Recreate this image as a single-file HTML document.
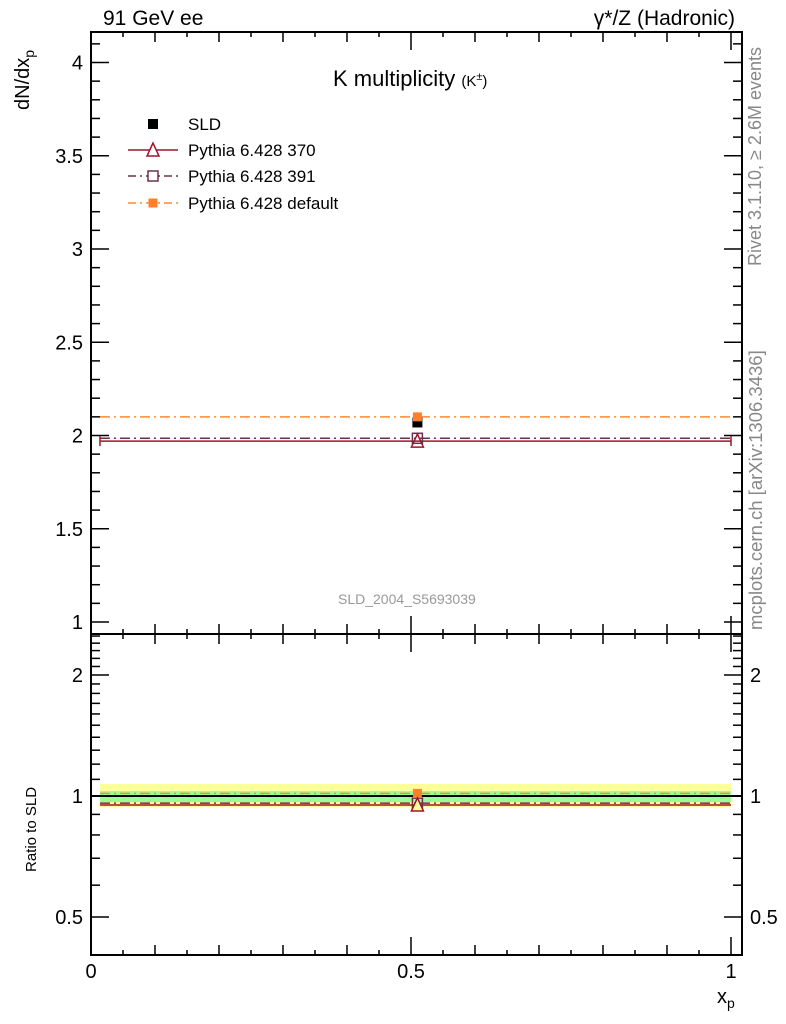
<!DOCTYPE html>
<html><head><meta charset="utf-8"><style>
body{margin:0;background:#fff;}
svg{display:block;font-family:"Liberation Sans",sans-serif;}
</style></head><body>
<svg id="c" width="786" height="1024" viewBox="0 0 786 1024">
<g id="g"></g>
</svg>
<script>
const seriesNames=["SLD","Pythia 6.428 370","Pythia 6.428 391","Pythia 6.428 default"];
const xLow=[0.014];
const xHigh=[1.0];
const xCenter=[0.51];
const sldVals=[2.07];
const p370Vals=[1.97];
const p391Vals=[1.985];
const pDefVals=[2.10];
const r370=[0.95];
const r391=[0.96];
const rDef=[1.015];
const bandInner=[0.966,1.029];
const bandOuter=[0.939,1.071];
const mainTicks=[1,1.5,2,2.5,3,3.5,4];
const ratioTicks=[0.5,1,2];
const xTicks=[0,0.5,1];

const NS="http://www.w3.org/2000/svg";
const g=document.getElementById('g');
const L=91,R=742,T=32,MB=634,RB=955;
const X=v=>L+v*640;
const Y=v=>622-(v-1)*186.5;
const YR=v=>796-Math.log2(v)*121;
function el(t,a,txt){const e=document.createElementNS(NS,t);for(const k in a)e.setAttribute(k,a[k]);if(txt!==undefined)e.textContent=txt;g.appendChild(e);return e;}
function line(x1,y1,x2,y2,s,w,d){return el('line',{x1,y1,x2,y2,stroke:s,'stroke-width':w||1,'stroke-dasharray':d||'none'});}

let e=el('rect',{x:X(xLow[0]),y:YR(bandOuter[1]),width:X(xHigh[0])-X(xLow[0]),height:YR(bandOuter[0])-YR(bandOuter[1]),fill:'#ffff99'});

e=el('rect',{x:X(xLow[0]),y:YR(bandInner[1]),width:X(xHigh[0])-X(xLow[0]),height:YR(bandInner[0])-YR(bandInner[1]),fill:'#99ff99'});


e=el('rect',{x:L,y:T,width:R-L,height:MB-T,fill:'none',stroke:'#000','stroke-width':2});

e=el('rect',{x:L,y:MB,width:R-L,height:RB-MB,fill:'none',stroke:'#000','stroke-width':2});


for(let v=1;v<=4.15;v+=0.1){const vv=Math.round(v*10)/10;const maj=Math.abs(vv*2-Math.round(vv*2))<1e-6;const len=maj?18:9;
 line(L,Y(vv),L+len,Y(vv),'#000',1.5);line(R,Y(vv),R-len,Y(vv),'#000',1.5);}
mainTicks.forEach(v=>{e=el('text',{x:L-8,y:Y(v)+7,'font-size':20,'text-anchor':'end'},String(v));
 });
for(let v=0.4;v<=2.55;v+=0.1){const vv=Math.round(v*10)/10;if(YR(vv)<MB||YR(vv)>RB)continue;const maj=ratioTicks.includes(vv);const len=maj?18:9;
 line(L,YR(vv),L+len,YR(vv),'#000',1.5);line(R,YR(vv),R-len,YR(vv),'#000',1.5);}
ratioTicks.forEach(v=>{e=el('text',{x:L-8,y:YR(v)+7,'font-size':20,'text-anchor':'end'},String(v));
 
 e=el('text',{x:R+8,y:YR(v)+7,'font-size':20},String(v));
 });
for(let i=0;i<=20;i++){const v=i*0.05;const len=(i%10==0)?18:(i%2==0?10:5);
 line(X(v),MB,X(v),MB-len,'#000',1.5);line(X(v),MB,X(v),MB+len,'#000',1.5);line(X(v),RB,X(v),RB-len,'#000',1.5);line(X(v),T,X(v),T+len,'#000',1.5);}
xTicks.forEach(v=>{e=el('text',{x:X(v),y:978,'font-size':20,'text-anchor':'middle'},String(v));
 });

function hline(x1,x2,y,c,d,w,name){const l=line(x1,y,x2,y,c,w||1.5,d);}
xCenter.forEach((xc,i)=>{
 hline(X(xLow[i]),X(xHigh[i]),Y(pDefVals[i]),'#ff8a33','10,4,2,4',1.5,'default-line');
 hline(X(xLow[i]),X(xHigh[i]),Y(p391Vals[i]),'#6b3050','10,4,2,4',1.5,'p391-line');
 hline(X(xLow[i]),X(xHigh[i]),Y(p370Vals[i]),'#a0142c',null,1.5,'p370-line');
 line(X(xLow[i]),Y(p370Vals[i])-5,X(xLow[i]),Y(p370Vals[i])+5,'#a0142c',1.5);
 line(X(xHigh[i]),Y(p370Vals[i])-5,X(xHigh[i]),Y(p370Vals[i])+5,'#a0142c',1.5);
 let m=el('rect',{x:X(xc)-5,y:Y(sldVals[i])-5,width:10,height:10,fill:'#000'});
 
 m=el('rect',{x:X(xc)-5,y:Y(p391Vals[i])-5,width:10,height:10,fill:'none',stroke:'#6b3050','stroke-width':1.5});
 
 m=el('rect',{x:X(xc)-4.5,y:Y(pDefVals[i])-4.5,width:9,height:9,fill:'#ff7f2a'});
 
 const ty=Y(p370Vals[i]);
 m=el('polygon',{points:`${X(xc)},${ty-7} ${X(xc)-6},${ty+6} ${X(xc)+6},${ty+6}`,fill:'none',stroke:'#a0142c','stroke-width':1.5});
 
 line(L,YR(1),R,YR(1),'#000',2);
 hline(X(xLow[i]),X(xHigh[i]),YR(rDef[i]),'#ff8a33','10,4,2,4',1.5,'ratio-default-line');
 hline(X(xLow[i]),X(xHigh[i]),YR(r391[i]),'#6b3050','10,4,2,4',1.5,'ratio-p391-line');
 hline(X(xLow[i]),X(xHigh[i]),YR(r370[i]),'#a0142c',null,1.5,'ratio-p370-line');
 m=el('rect',{x:X(xc)-5,y:YR(r391[i])-5,width:10,height:10,fill:'none',stroke:'#6b3050','stroke-width':1.5});
 
 m=el('rect',{x:X(xc)-4.5,y:YR(rDef[i])-4.5,width:9,height:9,fill:'#ff7f2a'});
 
 const ry=YR(r370[i]);
 m=el('polygon',{points:`${X(xc)},${ry-7} ${X(xc)-6},${ry+6} ${X(xc)+6},${ry+6}`,fill:'#ffff99',stroke:'#a0142c','stroke-width':1.5});
 
});

const ly=[124,150,176,203];
e=el('rect',{x:148,y:ly[0]-5,width:10,height:10,fill:'#000'});
line(128,ly[1],178,ly[1],'#a0142c',1.5);
e=el('polygon',{points:`153,${ly[1]-7} 147,${ly[1]+6} 159,${ly[1]+6}`,fill:'#fff',stroke:'#a0142c','stroke-width':1.5});
line(128,ly[2],178,ly[2],'#6b3050',1.5,'8,4,2,4');
e=el('rect',{x:148,y:ly[2]-5,width:10,height:10,fill:'#fff',stroke:'#6b3050','stroke-width':1.5});
line(128,ly[3],178,ly[3],'#ff8a33',1.5,'8,4,2,4');
e=el('rect',{x:148.5,y:ly[3]-4.5,width:9,height:9,fill:'#ff7f2a'});
seriesNames.forEach((n,i)=>{e=el('text',{x:188,y:ly[i]+6,'font-size':17},n);
 });
</script>
<div style="position:absolute;left:0;top:0;width:786px;height:1024px;pointer-events:none;font-family:'Liberation Sans',sans-serif;">
<div style="position:absolute;left:103px;top:7px;font-size:21px;">91 GeV ee</div>
<div style="position:absolute;right:51px;top:7px;font-size:21px;">γ*/Z (Hadronic)</div>
<div style="position:absolute;left:333px;top:66px;font-size:22px;">K multiplicity <span style="font-size:15px">(K<sup style="font-size:11px">±</sup>)</span></div>
<div style="position:absolute;left:12px;top:110px;font-size:20px;transform:rotate(-90deg);transform-origin:0 0;white-space:nowrap;">dN/dx<sub style="font-size:14px">p</sub></div>
<div style="position:absolute;left:23px;top:872px;font-size:15px;transform:rotate(-90deg);transform-origin:0 0;white-space:nowrap;">Ratio to SLD</div>
<div style="position:absolute;left:717px;top:986px;font-size:20px;">x<sub style="font-size:14px">p</sub></div>
<div style="position:absolute;left:338px;top:591px;font-size:14px;color:#999;">SLD_2004_S5693039</div>
<div style="position:absolute;left:745px;top:266px;font-size:18px;color:#888;transform:rotate(-90deg);transform-origin:0 0;white-space:nowrap;">Rivet 3.1.10, ≥ 2.6M events</div>
<div style="position:absolute;left:745px;top:630px;font-size:18.5px;color:#888;transform:rotate(-90deg);transform-origin:0 0;white-space:nowrap;">mcplots.cern.ch [arXiv:1306.3436]</div>
</div>
</body></html>
